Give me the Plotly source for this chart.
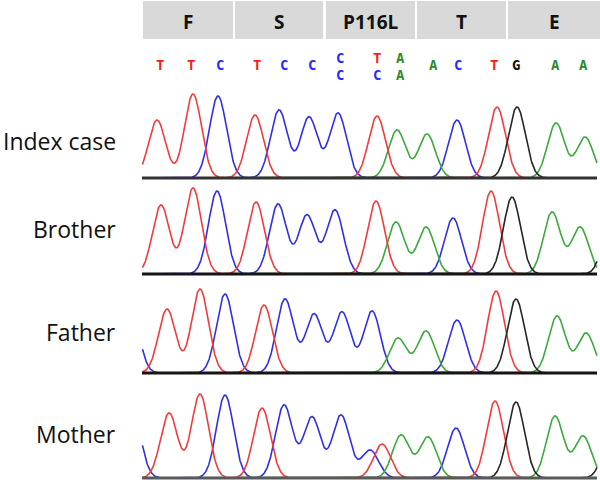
import numpy as np
import plotly.graph_objects as go

W, H = 600, 482

samples = ["Index case", "Brother", "Father", "Mother"]
codons = ["F", "S", "P116L", "T", "E"]
codon_bounds = [(143, 233), (235, 323), (326, 415), (417, 506), (508, 600)]

# base calls (primary row) and positions along scan axis
base_calls = ["T", "T", "C", "T", "C", "C", "C", "T", "A", "A", "C", "T", "G", "A", "A"]
base_pos = [160, 191, 220, 257, 284, 312, 340, 377, 400, 433, 458, 494, 516, 555, 583]
# secondary calls at the heterozygous / mixed positions
alt_calls = {6: "C", 7: "C", 8: "A"}

# peaks per sample: channel -> list of (position, height)
peaks = {
    "Index case": {
        "T": [(157, 58), (193, 84), (255, 63), (377, 62), (497, 71)],
        "C": [(218, 82), (279, 68), (309, 61), (338, 65), (457, 58)],
        "A": [(397, 48), (427, 44), (556, 55), (585, 41)],
        "G": [(517, 71)],
    },
    "Brother": {
        "T": [(161, 69), (193, 86), (256, 72), (376, 73), (491, 83)],
        "C": [(217, 83), (278, 70), (307, 59), (335, 64), (453, 56)],
        "A": [(396, 52), (426, 47), (552, 62), (580, 47)],
        "G": [(512, 77), (612, 60)],
    },
    "Father": {
        "T": [(167, 64), (200, 84), (264, 68), (496, 82)],
        "C": [(130, 70), (225, 79), (285, 74), (314, 59), (342, 61), (372, 62), (457, 53)],
        "A": [(398, 35), (426, 42), (557, 57), (586, 40)],
        "G": [(516, 74)],
    },
    "Mother": {
        "T": [(169, 65), (200, 84), (262, 70), (382, 34), (495, 77)],
        "C": [(132, 70), (225, 83), (284, 73), (312, 61), (341, 63), (370, 28), (456, 50)],
        "A": [(401, 43), (428, 41), (555, 62), (583, 42)],
        "G": [(516, 76), (612, 50)],
    },
}

channel_colors = {"T": "#f03c3c", "C": "#2f2fe6", "A": "#3aaa3a", "G": "#262626"}
letter_colors = {"T": "#ff1a1a", "C": "#2a2aff", "A": "#2a8a2a", "G": "#111111"}
baselines_px = [178, 274, 373, 478]
baseline_colors = ["#333333", "#151515", "#151515", "#5a5a5a"]

SIGMA = 8.5
x_grid = np.linspace(142.5, 597, 1200)


def channel_curve(plist):
    y = np.zeros_like(x_grid)
    for p, h in plist:
        y += h * np.exp(-((x_grid - p) ** 2) / (2 * SIGMA ** 2))
    return y


def py(pix):
    return 1 - pix / H


fig = go.Figure()
shapes = []
annotations = []

for i, name in enumerate(samples):
    b = baselines_px[i]
    yname = "y" if i == 0 else f"y{i + 1}"
    for ch in ["C", "A", "T", "G"]:
        fig.add_trace(go.Scatter(
            x=x_grid, y=channel_curve(peaks[name][ch]), mode="lines",
            line=dict(color=channel_colors[ch], width=1.6),
            yaxis=yname, xaxis="x", showlegend=False, hoverinfo="skip"))
    axkey = "yaxis" if i == 0 else f"yaxis{i + 1}"
    fig.update_layout(**{axkey: dict(
        domain=[py(b + 2), py(b - 98)], range=[-2, 98], visible=False, fixedrange=True)})
    shapes.append(dict(type="line", xref="x", yref=yname, x0=142, x1=597, y0=0, y1=0,
                       line=dict(color=baseline_colors[i], width=3), layer="above"))
    annotations.append(dict(text=name, xref="paper", yref="paper", x=118 / W,
                            y=py([141, 229, 332, 434][i]), xanchor="right", yanchor="middle",
                            showarrow=False, font=dict(family="Open Sans", size=23, color="#111")))

# header codon boxes
for lab, (x0, x1) in zip(codons, codon_bounds):
    shapes.append(dict(type="rect", xref="x", yref="paper", x0=x0, x1=x1,
                       y0=py(39), y1=py(1), fillcolor="#d9d9d9", line=dict(width=0), layer="below"))
    annotations.append(dict(text=f"<b>{lab}</b>", xref="x", yref="paper", x=(x0 + x1) / 2,
                            y=py(22), xanchor="center", yanchor="middle", showarrow=False,
                            font=dict(family="Open Sans", size=19, color="#111")))

# base calls
for k, (bc, xp) in enumerate(zip(base_calls, base_pos)):
    if k in alt_calls:
        rows = [(bc, 58), (alt_calls[k], 75)]
    else:
        rows = [(bc, 65)]
    for letter, ypix in rows:
        annotations.append(dict(text=f"<b>{letter}</b>", xref="x", yref="paper", x=xp,
                                y=py(ypix), xanchor="center", yanchor="middle", showarrow=False,
                                font=dict(family="DejaVu Sans Mono", size=14,
                                          color=letter_colors[letter])))

fig.update_layout(
    width=W, height=H, margin=dict(l=0, r=0, t=0, b=0),
    paper_bgcolor="white", plot_bgcolor="rgba(0,0,0,0)",
    xaxis=dict(range=[0, W], domain=[0, 1], visible=False, fixedrange=True),
    shapes=shapes, annotations=annotations, showlegend=False,
)

fig.write_html("out.html", config={"displayModeBar": False},
               post_script="document.body.style.margin='0';document.body.style.padding='0';")
